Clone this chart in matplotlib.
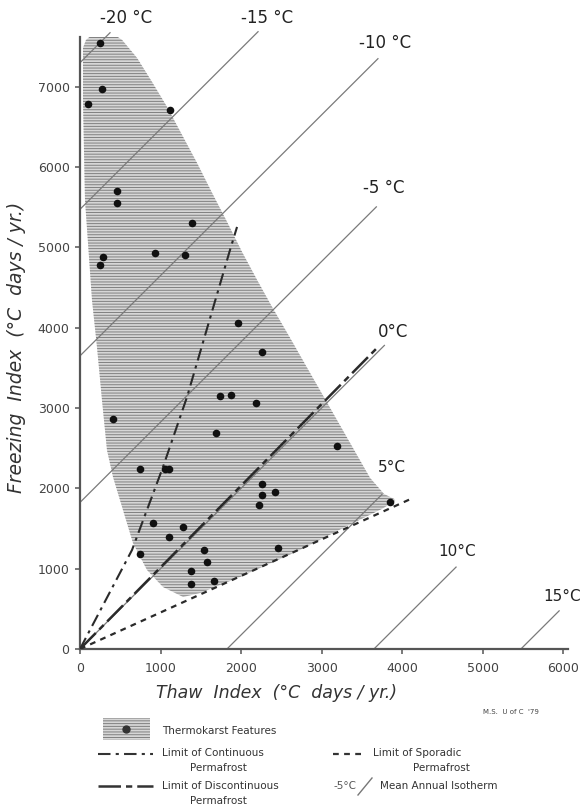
import matplotlib
matplotlib.use("Agg")
import matplotlib.pyplot as plt
from matplotlib.patches import Polygon, Rectangle

plt.rcParams['font.family'] = ['DejaVu Sans']
plt.rcParams['hatch.linewidth'] = 0.7

# ---------------- data ----------------
# Thermokarst feature sites (thaw index, freezing index)
thaw = [248, 277, 103, 1118, 456, 464, 1387, 290, 248, 932, 1304, 1967, 2265,
        406, 1739, 1872, 2182, 1685, 745, 1055, 1100, 2257, 2257, 2422, 2228,
        903, 1110, 1276, 745, 1540, 1574, 1375, 1375, 1665, 2464, 3189, 3851]
freeze = [7547, 6974, 6787, 6712, 5707, 5550, 5309, 4878, 4782, 4928, 4907, 4056, 3703,
          2864, 3155, 3163, 3059, 2686, 2242, 2242, 2242, 2051, 1918, 1959, 1793,
          1573, 1399, 1524, 1183, 1233, 1087, 976, 809, 847, 1254, 2528, 1834]

# envelope of thermokarst features
zone_x = [37, 75, 149, 248, 373, 522, 708, 894, 1081, 1267, 1453, 1640, 1826, 2012,
          2199, 2385, 2609, 2857, 3106, 3354, 3602, 3776, 3901, 3915, 3750, 3267,
          2733, 2236, 1988, 1739, 1491, 1280, 1031, 832, 658, 534, 410, 335, 273,
          211, 149, 62, 37]
zone_y = [7484, 7584, 7646, 7684, 7684, 7584, 7360, 7061, 6750, 6401, 6052, 5679,
          5318, 4944, 4595, 4259, 3873, 3437, 3001, 2565, 2130, 1930, 1868, 1845,
          1745, 1507, 1233, 1009, 897, 797, 697, 648, 772, 984, 1320, 1731, 2142,
          2478, 3101, 3761, 4346, 5592, 6837]

# permafrost limits
cont_x = [0, 646, 1031, 1329, 1863, 1950]
cont_y = [0, 1233, 2267, 3138, 4969, 5255]
disc_x = [0, 3700]
disc_y = [0, 3760]
spor_x = [0, 4100]
spor_y = [0, 1865]

# mean annual isotherms
iso_labels = ['-20 °C', '-15 °C', '-10 °C', '-5 °C', '0°C', '5°C', '10°C', '15°C']
iso_x0 = [0, 0, 0, 0, 0, 1825, 3650, 5475]
iso_y0 = [7300, 5475, 3650, 1825, 0, 0, 0, 0]
iso_x1 = [373, 2211, 3700, 3680, 3780, 3750, 4670, 5950]
iso_y1 = [7673, 7686, 7350, 5505, 3780, 1925, 1020, 475]
iso_lab_x = [571, 2323, 3789, 3776, 3888, 3876, 4683, 5985]
iso_lab_y = [7858, 7858, 7547, 5741, 3948, 2254, 1208, 648]
iso_lab_size = [12, 12, 12, 12, 12, 11, 11, 11]

xticks = [0, 1000, 2000, 3000, 4000, 5000, 6000]
yticks = [0, 1000, 2000, 3000, 4000, 5000, 6000, 7000]

# ---------------- figure ----------------
W, H = 584, 806
fig = plt.figure(figsize=(W / 100, H / 100), dpi=100)
fig.patch.set_facecolor('white')


def fx(px):
    return px / W


def fy(py):
    return 1 - py / H


ax = fig.add_axes([fx(80), fy(649), (568 - 80) / W, (649 - 37) / H])
ax.set_xlim(0, 6060)
ax.set_ylim(0, 7620)
ax.patch.set_alpha(0)

# shaded zone
ax.add_patch(Polygon(list(zip(zone_x, zone_y)), closed=True, facecolor='#d6d6d6',
                     edgecolor='#808080', linewidth=0, hatch='------', zorder=1))

# isotherms
for lab, x0, y0, x1, y1, lx, ly, fs in zip(iso_labels, iso_x0, iso_y0, iso_x1, iso_y1,
                                          iso_lab_x, iso_lab_y, iso_lab_size):
    ax.plot([x0, x1], [y0, y1], color='#7a7a7a', lw=0.9, zorder=2, clip_on=False)
    ax.text(lx, ly, lab, fontsize=fs, color='#222222', ha='center', va='center',
            clip_on=False)

# permafrost limits
ax.plot(cont_x, cont_y, color='#2a2a2a', lw=1.5, dashes=(6, 2.5, 1.5, 2.5), zorder=3)
ax.plot(disc_x, disc_y, color='#2a2a2a', lw=1.8, dashes=(9, 2, 2.5, 2), zorder=3)
ax.plot(spor_x, spor_y, color='#2a2a2a', lw=1.6, dashes=(2.6, 2.4), zorder=3)

# points
ax.scatter(thaw, freeze, s=30, color='#111111', zorder=4, linewidths=0)

# axes style
for s in ['top', 'right']:
    ax.spines[s].set_visible(False)
for s in ['left', 'bottom']:
    ax.spines[s].set_color('#555555')
    ax.spines[s].set_linewidth(1.6)
ax.set_xticks(xticks)
ax.set_yticks(yticks)
ax.tick_params(direction='out', length=3.5, width=1.1, color='#555555',
               labelsize=9, labelcolor='#444444')
ax.tick_params(axis='x', pad=6)
ax.tick_params(axis='y', pad=4)

# axis labels
fig.text(fx(276), fy(693), 'Thaw  Index  (°C  days / yr.)', fontsize=12.5,
         style='italic', color='#333333', ha='center', va='center')
fig.text(fx(17), fy(347), 'Freezing  Index  (°C  days / yr.)', fontsize=13.5,
         style='italic', color='#333333', ha='center', va='center', rotation=90)

# ---------------- legend ----------------
lax = fig.add_axes([0, 0, 1, 1])
lax.set_xlim(0, W)
lax.set_ylim(H, 0)
lax.axis('off')
lax.patch.set_alpha(0)

lax.add_patch(Rectangle((103, 718), 47, 22, facecolor='#d6d6d6', edgecolor='#808080',
                        linewidth=0, hatch='------'))
lax.plot([126], [729], 'o', color='#333333', ms=5)

tkw = dict(fontsize=7.5, color='#333333', va='center', ha='left')
lax.text(162, 731, 'Thermokarst Features', **tkw)
lax.plot([98, 153], [754, 754], color='#333333', lw=1.5, dashes=(6, 2.5, 1.5, 2.5))
lax.text(162, 753, 'Limit of Continuous', **tkw)
lax.text(190, 768, 'Permafrost', **tkw)
lax.plot([98, 153], [786, 786], color='#333333', lw=1.8, dashes=(9, 2, 2.5, 2))
lax.text(162, 786, 'Limit of Discontinuous', **tkw)
lax.text(190, 801, 'Permafrost', **tkw)
lax.plot([333, 365], [754, 754], color='#333333', lw=1.6, dashes=(2.6, 2.4))
lax.text(373, 753, 'Limit of Sporadic', **tkw)
lax.text(413, 768, 'Permafrost', **tkw)
lax.text(333, 786, '-5°C', fontsize=7.5, color='#555555', va='center', ha='left')
lax.plot([358, 372], [795, 778], color='#777777', lw=1.0)
lax.text(380, 786, 'Mean Annual Isotherm', **tkw)
lax.text(483, 712, "M.S.  U of C  '79", fontsize=5, color='#444444', va='center',
         ha='left')

fig.savefig('out.png', dpi=100)
